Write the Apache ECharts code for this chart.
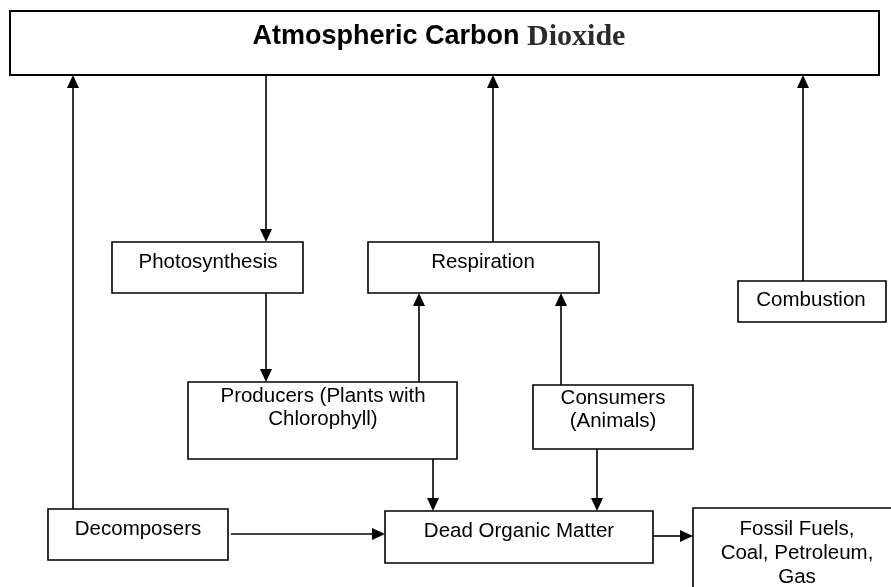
<!DOCTYPE html>
<html>
<head>
<meta charset="utf-8">
<script src="https://cdn.jsdelivr.net/npm/echarts@6/dist/echarts.min.js"></script>
<style>
html,body{margin:0;padding:0;background:#fff;}
#chart{width:891px;height:587px;}
</style>
</head>
<body>
<div id="chart"></div>
<script>
// Box names and their extents (diagram units = reference pixels)
var boxNames = ['Atmospheric Carbon Dioxide', 'Photosynthesis', 'Respiration', 'Combustion',
  'Producers (Plants with\nChlorophyll)', 'Consumers\n(Animals)', 'Decomposers',
  'Dead Organic Matter', 'Fossil Fuels,\nCoal, Petroleum,\nGas'];
var boxLeft   = [10, 112, 368, 738, 188, 533, 48, 385, 693];
var boxTop    = [11, 242, 242, 281, 382, 385, 509, 511, 508];
var boxRight  = [879, 303, 599, 886, 457, 693, 228, 653, 902];
var boxBottom = [75, 293, 293, 322, 459, 449, 560, 563, 600];
var labelX    = [439, 208, 483, 811, 323, 613, 138, 519, 797];
var labelY    = [37, 262, 262, 300, 408, 410, 529, 531, 553];

// Connectors: start (x,y) -> end (x,y), arrow at end
var arrowFromX = [73, 266, 493, 803, 266, 419, 561, 433, 597, 231, 653];
var arrowFromY = [509, 75, 242, 281, 293, 382, 385, 459, 449, 534, 536];
var arrowToX   = [73, 266, 493, 803, 266, 419, 561, 433, 597, 385, 693];
var arrowToY   = [75, 242, 75, 75, 382, 293, 293, 511, 511, 534, 536];

var boxData = boxNames.map(function (n, i) {
  return [boxLeft[i], boxTop[i], boxRight[i], boxBottom[i], labelX[i], labelY[i]];
});
var arrowData = arrowFromX.map(function (x, i) {
  return [arrowFromX[i], arrowFromY[i], arrowToX[i], arrowToY[i]];
});

var chart = echarts.init(document.getElementById('chart'), null, {renderer: 'canvas'});
chart.setOption({
  animation: false,
  backgroundColor: '#ffffff',
  grid: {left: 0, right: 0, top: 0, bottom: 0},
  xAxis: {type: 'value', min: 0, max: 891, show: false},
  yAxis: {type: 'value', min: 0, max: 587, inverse: true, show: false},
  series: [
    {
      type: 'custom',
      coordinateSystem: 'cartesian2d',
      clip: false,
      silent: true,
      z: 2,
      data: arrowData,
      renderItem: function (params, api) {
        var p1 = api.coord([api.value(0), api.value(1)]);
        var p2 = api.coord([api.value(2), api.value(3)]);
        var dx = p2[0] - p1[0], dy = p2[1] - p1[1];
        var len = Math.sqrt(dx * dx + dy * dy);
        var ux = dx / len, uy = dy / len;
        var headL = 13, headW = 6;
        var bx = p2[0] - ux * headL, by = p2[1] - uy * headL;
        return {
          type: 'group',
          children: [
            {type: 'line', shape: {x1: p1[0], y1: p1[1], x2: bx + ux, y2: by + uy},
              style: {stroke: '#000', lineWidth: 1.6}},
            {type: 'polygon', shape: {points: [[p2[0], p2[1]],
              [bx - uy * headW, by + ux * headW], [bx + uy * headW, by - ux * headW]]},
              style: {fill: '#000'}}
          ]
        };
      }
    },
    {
      type: 'custom',
      coordinateSystem: 'cartesian2d',
      clip: false,
      silent: true,
      z: 3,
      data: boxData,
      renderItem: function (params, api) {
        var i = params.dataIndex;
        var p0 = api.coord([api.value(0), api.value(1)]);
        var p1 = api.coord([api.value(2), api.value(3)]);
        var c = api.coord([api.value(4), api.value(5)]);
        var textStyle;
        if (i === 0) {
          textStyle = {
            text: '{a|Atmospheric Carbon }{b|Dioxide}',
            align: 'center', verticalAlign: 'middle',
            rich: {
              a: {fontFamily: '"Liberation Sans", Arial, sans-serif', fontWeight: 'bold', fontSize: 27, fill: '#000', color: '#000'},
              b: {fontFamily: '"Liberation Serif", "Times New Roman", serif', fontWeight: 'bold', fontSize: 30, fill: '#2b2b2b', color: '#2b2b2b'}
            }
          };
        } else {
          textStyle = {
            text: boxNames[i],
            align: 'center', verticalAlign: 'middle',
            fontFamily: '"Liberation Sans", Arial, sans-serif',
            fontSize: 20.5,
            lineHeight: i === 8 ? 24 : 22.5,
            fill: '#000'
          };
        }
        return {
          type: 'group',
          children: [
            {type: 'rect', shape: {x: p0[0], y: p0[1], width: p1[0] - p0[0], height: p1[1] - p0[1]},
              style: {fill: '#fff', stroke: '#000', lineWidth: i === 0 ? 2 : 1.6}},
            {type: 'text', x: c[0], y: c[1], style: textStyle}
          ]
        };
      }
    }
  ]
});
</script>
</body>
</html>
